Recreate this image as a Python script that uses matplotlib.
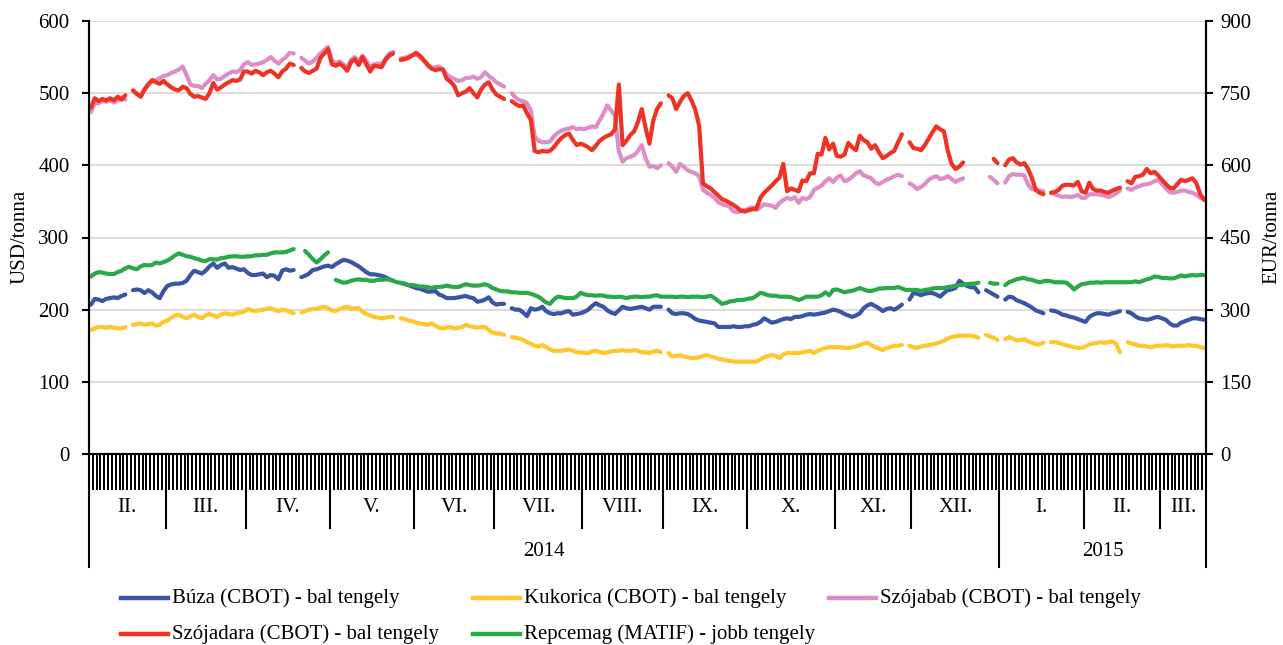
import numpy as np
import pandas as pd
import matplotlib
matplotlib.use("Agg")
import matplotlib.pyplot as plt
import matplotlib.transforms as mtransforms
from matplotlib.lines import Line2D

nan = np.nan

# business days shown on the category axis
days = pd.bdate_range("2014-02-03", "2015-03-17")
month_labels = ["II.", "III.", "IV.", "V.", "VI.", "VII.", "VIII.", "IX.",
                "X.", "XI.", "XII.", "I.", "II.", "III."]
year_labels = ["2014", "2015"]

# USD/tonna (bal tengely), one row per month
buza = (
    [207, 215, 214, 212, 215, 216, 217, 216, 219, 221, nan, 227, 228, 227, 223, 227, 224, 219, 216, 226] +
    [233, 235, 236, 236, 237, 240, 248, 254, 252, 250, 254, 260, 264, 258, 262, 264, 258, 259, 257, 255, 256] +
    [251, 248, 248, 249, 250, 245, 248, 247, 242, 254, 256, 254, 255, nan, 245, 247, 250, 255, 256, 258, 260, 261] +
    [259, 263, 266, 269, 268, 266, 263, 260, 256, 252, 249, 249, 248, 247, 245, 242, 240, nan, 237, 236, 234, 232] +
    [230, 229, 227, 225, 225, 226, 221, 219, 216, 216, 216, 217, 218, 219, 217, 216, 211, 212, 214, 217, 210] +
    [207, 208, 208, nan, 202, 200, 200, 196, 191, 202, 200, 201, 204, 198, 195, 194, 195, 195, 197, 198, 193, 194, 195] +
    [197, 200, 205, 209, 206, 204, 199, 196, 194, 199, 204, 202, 201, 202, 203, 204, 202, 200, 204, 204, 204] +
    [nan, 200, 195, 194, 195, 195, 194, 191, 187, 185, 184, 183, 182, 181, 176, 176, 176, 176, 177, 176, 176, 177] +
    [177, 179, 180, 183, 188, 185, 182, 183, 185, 187, 188, 187, 190, 190, 191, 193, 194, 193, 194, 195, 196, 198, 200] +
    [199, 197, 194, 192, 190, 192, 195, 202, 206, 208, 205, 202, 198, 201, 202, 200, 203, 207, nan, 214] +
    [223, 222, 220, 222, 223, 223, 221, 218, 223, 227, 228, 230, 240, 236, 233, 231, 231, 224, nan, 227, 224, 221, 218] +
    [nan, 214, 218, 217, 213, 211, 209, 206, 203, 199, 197, 195, nan, 199, 198, 196, 193, 192, 190, 189, 187, 185] +
    [183, 190, 193, 195, 195, 194, 193, 195, 196, 198, nan, 197, 195, 191, 188, 187, 186, 187, 189, 190] +
    [188, 186, 181, 178, 178, 182, 184, 186, 188, 188, 187, 186]
)

kukorica = (
    [172, 174, 176, 176, 175, 176, 175, 174, 174, 176, nan, 179, 180, 181, 179, 180, 181, 178, 179, 183] +
    [185, 189, 192, 193, 190, 188, 191, 193, 190, 188, 192, 194, 192, 190, 193, 195, 194, 193, 195, 196, 197] +
    [201, 199, 198, 199, 200, 201, 202, 200, 198, 200, 199, 197, 195, nan, 196, 198, 200, 201, 201, 203, 204, 202] +
    [199, 198, 201, 203, 204, 201, 202, 202, 197, 194, 192, 190, 189, 188, 189, 190, 190, nan, 188, 187, 185, 184] +
    [182, 181, 180, 179, 181, 178, 175, 174, 175, 176, 174, 175, 176, 179, 177, 176, 175, 176, 176, 172, 168] +
    [167, 167, 165, nan, 162, 161, 160, 158, 155, 153, 150, 149, 151, 148, 145, 143, 143, 143, 144, 145, 143, 141, 141] +
    [140, 140, 142, 143, 141, 140, 141, 142, 143, 143, 144, 143, 143, 144, 143, 141, 141, 140, 142, 143, 141] +
    [nan, 140, 135, 136, 137, 135, 134, 133, 133, 134, 136, 137, 135, 134, 132, 131, 130, 129, 128, 128, 128, 128] +
    [128, 128, 128, 131, 134, 136, 137, 136, 133, 138, 140, 140, 140, 140, 141, 142, 143, 140, 143, 145, 147, 148, 148] +
    [148, 148, 147, 147, 148, 149, 151, 153, 154, 151, 148, 146, 144, 147, 148, 150, 150, 151, nan, 150] +
    [148, 147, 149, 150, 151, 152, 153, 155, 157, 160, 162, 163, 164, 164, 164, 164, 163, 161, nan, 165, 163, 161, 158] +
    [nan, 159, 162, 160, 157, 158, 159, 156, 154, 152, 152, 154, nan, 155, 155, 154, 152, 151, 149, 148, 147, 147] +
    [149, 152, 153, 154, 155, 154, 155, 156, 153, 141, nan, 155, 153, 152, 150, 150, 149, 148, 149, 150] +
    [150, 151, 150, 149, 150, 150, 150, 151, 150, 150, 148, 147]
)

szojabab = (
    [474, 486, 486, 489, 488, 490, 487, 490, 494, 491, nan, 503, 499, 496, 505, 513, 517, 518, 521, 524] +
    [525, 528, 530, 533, 537, 525, 512, 510, 510, 507, 513, 518, 525, 519, 520, 524, 527, 530, 529, 532, 540] +
    [543, 539, 540, 541, 543, 546, 550, 545, 541, 546, 550, 556, 555, nan, 549, 545, 541, 544, 549, 555, 560, 564] +
    [545, 542, 544, 540, 535, 546, 550, 544, 552, 545, 536, 540, 541, 540, 548, 555, 557, nan, 548, 549, 551, 553] +
    [553, 550, 545, 538, 535, 536, 537, 533, 526, 522, 520, 517, 518, 521, 521, 523, 520, 522, 529, 524, 520] +
    [515, 512, 509, nan, 500, 494, 490, 489, 486, 476, 440, 434, 432, 432, 433, 440, 445, 448, 450, 451, 453, 450, 451] +
    [450, 452, 454, 453, 462, 472, 483, 476, 468, 420, 405, 410, 412, 414, 420, 428, 410, 398, 399, 396, 400] +
    [nan, 403, 398, 391, 402, 398, 393, 391, 389, 385, 366, 362, 359, 355, 349, 346, 345, 342, 336, 335, 337, 338] +
    [340, 342, 338, 342, 346, 345, 344, 341, 348, 352, 355, 353, 356, 348, 355, 353, 356, 366, 369, 372, 378, 382, 377] +
    [383, 386, 378, 380, 384, 389, 392, 386, 384, 382, 376, 374, 377, 380, 382, 385, 387, 385, nan, 375] +
    [372, 367, 370, 374, 380, 383, 385, 381, 382, 385, 381, 377, 380, 382, nan, nan, nan, nan, nan, nan, 384, 380, 375] +
    [nan, 376, 385, 388, 387, 387, 386, 373, 367, 366, 365, 364, nan, 362, 360, 358, 356, 357, 356, 357, 359, 355] +
    [355, 360, 360, 360, 359, 358, 356, 358, 361, 365, nan, 368, 366, 369, 371, 373, 374, 375, 378, 380] +
    [374, 368, 363, 362, 363, 365, 365, 363, 362, 359, 355, 354]
)

szojadara = (
    [480, 493, 489, 492, 490, 493, 490, 495, 491, 497, nan, 504, 499, 495, 505, 512, 518, 515, 513, 517] +
    [512, 508, 505, 504, 509, 507, 499, 495, 496, 494, 492, 500, 514, 505, 508, 512, 515, 518, 517, 519, 530] +
    [530, 527, 531, 529, 525, 529, 531, 527, 522, 530, 534, 541, 539, nan, 535, 530, 528, 531, 534, 549, 555, 561] +
    [540, 538, 541, 537, 531, 543, 547, 539, 550, 540, 530, 538, 537, 536, 546, 552, 555, nan, 546, 547, 549, 552] +
    [556, 552, 546, 540, 534, 532, 533, 533, 520, 516, 510, 497, 500, 502, 507, 500, 494, 505, 512, 515, 505] +
    [498, 495, 492, nan, 489, 485, 482, 483, 472, 463, 420, 418, 420, 419, 420, 425, 432, 438, 442, 444, 435, 428, 430] +
    [428, 425, 421, 427, 434, 438, 441, 443, 450, 512, 428, 434, 442, 447, 460, 478, 452, 430, 462, 478, 486] +
    [nan, 497, 493, 478, 488, 496, 500, 490, 477, 455, 375, 371, 368, 363, 358, 353, 351, 348, 345, 341, 337, 336] +
    [338, 339, 340, 355, 362, 367, 372, 378, 383, 402, 364, 368, 366, 364, 379, 378, 389, 389, 416, 415, 438, 422, 430] +
    [413, 412, 415, 431, 425, 421, 441, 435, 432, 423, 428, 418, 410, 413, 417, 420, 432, 443, nan, 432] +
    [424, 423, 421, 428, 437, 446, 454, 450, 447, 420, 402, 395, 398, 404, nan, nan, nan, nan, nan, nan, nan, 409, 403] +
    [nan, 400, 408, 410, 404, 401, 403, 395, 382, 366, 362, 360, nan, 362, 363, 366, 372, 373, 373, 372, 377, 364] +
    [362, 376, 367, 365, 365, 363, 362, 365, 367, 369, nan, 378, 375, 384, 385, 387, 395, 389, 391, 386] +
    [380, 374, 369, 368, 374, 380, 378, 380, 382, 375, 360, 352]
)

# EUR/tonna (jobb tengely)
repcemag = (
    [369, 375, 378, 377, 375, 374, 374, 378, 381, 386, 389, 386, 384, 390, 393, 392, 393, 398, 396, 399] +
    [402, 407, 413, 417, 414, 411, 410, 407, 405, 402, 401, 405, 405, 404, 407, 408, 410, 411, 411, 410, 410] +
    [411, 411, 413, 413, 414, 414, 417, 419, 419, 419, 420, 423, 426, nan, nan, 422, 414, 405, 398, 405, 413, 419] +
    [nan, 362, 359, 356, 357, 360, 362, 363, 362, 362, 360, 360, 362, 362, 363, 363, 360, 357, 356, 353, 351, 351] +
    [350, 348, 348, 347, 345, 347, 347, 348, 350, 348, 347, 347, 350, 353, 351, 350, 350, 351, 353, 350, 345] +
    [342, 339, 338, 338, 336, 336, 335, 335, 335, 333, 330, 327, 321, 315, 312, 321, 327, 326, 324, 324, 324, 327, 335] +
    [332, 330, 330, 329, 330, 329, 327, 327, 326, 327, 326, 324, 326, 327, 327, 326, 327, 327, 329, 330, 327] +
    [327, 327, 327, 326, 327, 327, 326, 327, 327, 327, 326, 327, 329, 324, 318, 312, 314, 317, 318, 320, 320, 321] +
    [323, 324, 329, 335, 333, 330, 329, 329, 327, 327, 327, 326, 323, 320, 323, 327, 327, 327, 327, 330, 336, 330, 341] +
    [342, 339, 336, 338, 339, 342, 345, 342, 339, 339, 341, 344, 344, 345, 345, 345, 347, 344, 341, 341] +
    [341, 341, 339, 341, 342, 344, 345, 345, 345, 347, 348, 350, 351, 351, 353, 354, 354, 356, nan, nan, 356, 354, 354] +
    [nan, 351, 357, 360, 363, 365, 366, 363, 362, 359, 357, 359, 360, 359, 357, 357, 357, 356, 350, 342, 348, 353] +
    [354, 356, 356, 357, 356, 357, 357, 357, 357, 357, 357, 357, 357, 359, 357, 360, 363, 365, 369, 368] +
    [366, 366, 365, 365, 368, 371, 369, 371, 372, 371, 372, 372]
)

series = [
    ("Búza (CBOT) - bal tengely", buza, "#3b55a5"),
    ("Kukorica (CBOT) - bal tengely", kukorica, "#ffc72c"),
    ("Szójabab (CBOT) - bal tengely", szojabab, "#dc8ec6"),
    ("Szójadara (CBOT) - bal tengely", szojadara, "#ee3224"),
]
rep_name = "Repcemag (MATIF) - jobb tengely"
rep_color = "#2aa84a"

plt.rcParams["font.family"] = ["Liberation Serif", "DejaVu Serif"]
plt.rcParams["font.size"] = 15

W, H = 1283, 645
fig = plt.figure(figsize=(W / 100, H / 100), dpi=100)
ax = fig.add_axes([89 / W, 1 - 454 / H, (1206 - 89) / W, 433 / H])
ax2 = ax.twinx()

n = len(days)
x = np.arange(n) + 0.5
lw = 3.0
for name, vals, col in series:
    ax.plot(x, vals, color=col, lw=lw, solid_capstyle="round", solid_joinstyle="round")
ax2.plot(x, repcemag, color=rep_color, lw=lw, solid_capstyle="round", solid_joinstyle="round")

ax.set_xlim(0, n)
ax.set_ylim(0, 600)
ax2.set_ylim(0, 900)
ax.set_yticks(np.arange(0, 601, 100))
ax2.set_yticks(np.arange(0, 901, 150))
ax.grid(axis="y", color="#d9d9d9", lw=1.3)
ax.set_axisbelow(True)

for a in (ax, ax2):
    a.spines["top"].set_visible(False)
    for s in ("left", "right", "bottom"):
        a.spines[s].set_color("black")
        a.spines[s].set_linewidth(1.5)

ax.tick_params(axis="y", direction="out", length=5, width=1.5, pad=9, labelsize=15)
ax2.tick_params(axis="y", direction="out", length=5, width=1.5, pad=5, labelsize=15)

# one tick per trading day
ax.set_xticks(np.arange(0, n + 1))
ax.tick_params(axis="x", direction="out", length=26, width=1.4, color="black", labelbottom=False)

# month / year separators and labels under the axis
trans = mtransforms.blended_transform_factory(ax.transData, ax.transAxes)
band = -36 / 433
mline = -74 / 433
yline = -113 / 433
starts = [i for i in range(n) if i == 0 or days[i].month != days[i - 1].month] + [n]
year_starts = [i for i in range(n) if i == 0 or days[i].year != days[i - 1].year] + [n]

for b in starts[1:-1]:
    bottom = yline if b in year_starts else mline
    ax.plot([b, b], [band, bottom], transform=trans, color="black", lw=1.5, clip_on=False)
for b in (0, n):
    ax.plot([b, b], [0, yline], transform=trans, color="black", lw=1.5, clip_on=False)

for k in range(len(starts) - 1):
    ax.text((starts[k] + starts[k + 1]) / 2, -54 / 433, month_labels[k], transform=trans,
            ha="center", va="center", fontsize=15)
for k in range(len(year_starts) - 1):
    ax.text((year_starts[k] + year_starts[k + 1]) / 2, -97 / 433, year_labels[k], transform=trans,
            ha="center", va="center", fontsize=15)

fig.text(20 / W, 1 - 237 / H, "USD/tonna", rotation=90, ha="center", va="center", fontsize=15)
fig.text(1272 / W, 1 - 237 / H, "EUR/tonna", rotation=90, ha="center", va="center", fontsize=15)

# legend placed by hand (two rows)
entries = [
    (series[0][0], series[0][2], 121, 598),
    (series[1][0], series[1][2], 473, 598),
    (series[2][0], series[2][2], 829, 598),
    (series[3][0], series[3][2], 121, 634),
    (rep_name, rep_color, 473, 634),
]
for label, col, px, py in entries:
    yy = 1 - py / H
    fig.add_artist(Line2D([px / W, (px + 47) / W], [yy, yy], color=col, lw=3.2,
                          transform=fig.transFigure))
    fig.text((px + 51) / W, yy, label, ha="left", va="center", fontsize=15)

fig.savefig("out.png", dpi=100)
